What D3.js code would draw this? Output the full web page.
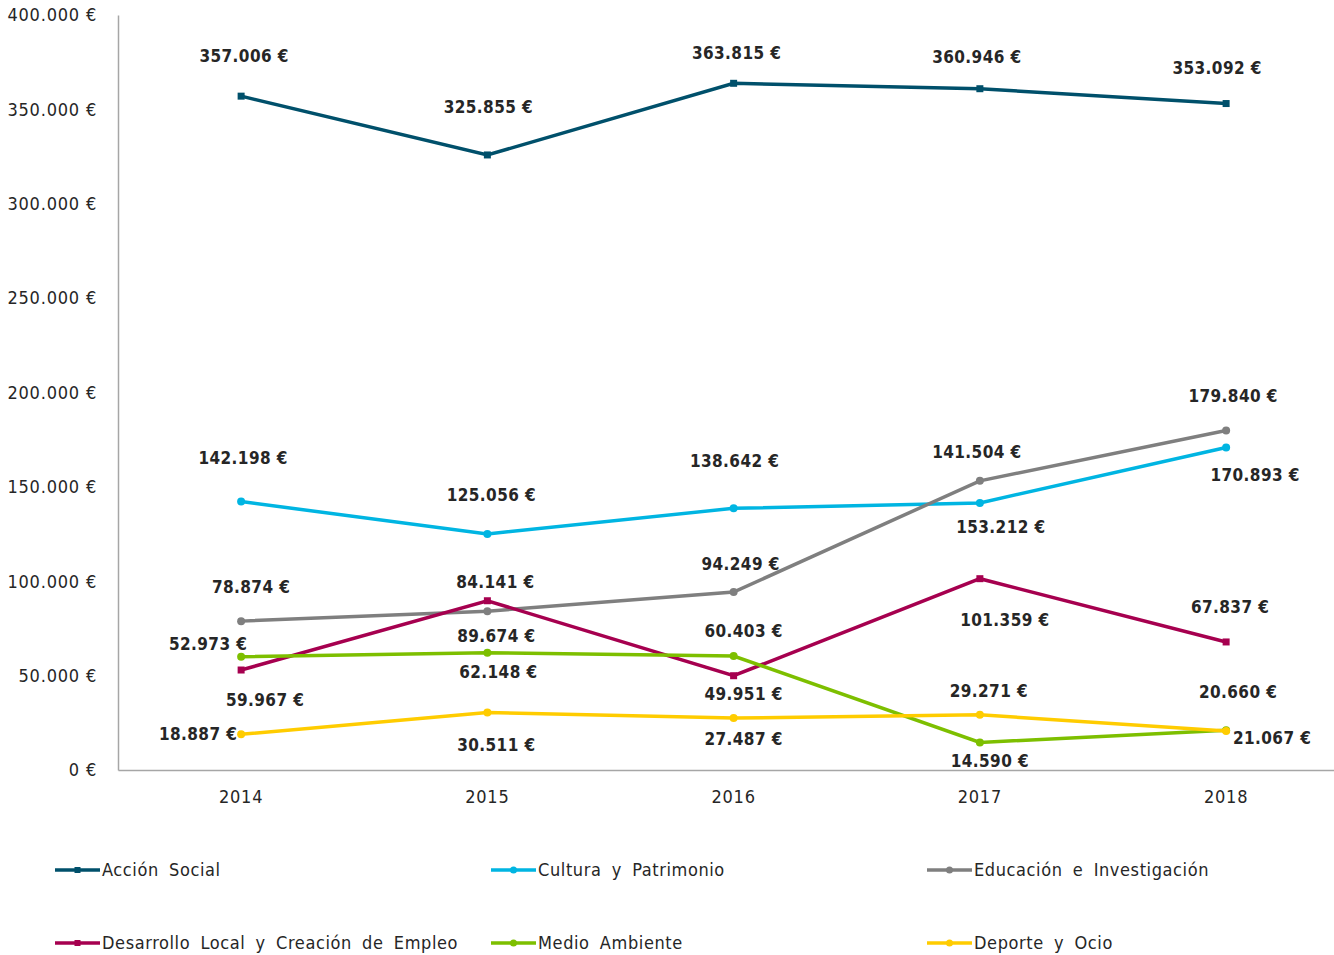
<!DOCTYPE html>
<html>
<head>
<meta charset="utf-8">
<script src="https://cdn.jsdelivr.net/npm/d3@7"></script>
<style>
  body { margin: 0; background: #fff; }
  svg { font-family: "DejaVu Sans Condensed", "DejaVu Sans", sans-serif; }
</style>
</head>
<body>
<svg class="chart"></svg>
<script>
// Data
const years = [2014, 2015, 2016, 2017, 2018];
const seriesNames = ['Acción Social', 'Cultura y Patrimonio', 'Educación e Investigación',
  'Desarrollo Local y Creación de Empleo', 'Medio Ambiente', 'Deporte y Ocio'];
const accionSocial = [357006, 325855, 363815, 360946, 353092];
const cultura = [142198, 125056, 138642, 141504, 170893];
const educacion = [78874, 84141, 94249, 153212, 179840];
const desarrollo = [52973, 89674, 49951, 101359, 67837];
const medioAmbiente = [59967, 62148, 60403, 14590, 21067];
const deporte = [18887, 30511, 27487, 29271, 20660];
const yTicks = [0, 50000, 100000, 150000, 200000, 250000, 300000, 350000, 400000];

const allValues = [accionSocial, cultura, educacion, desarrollo, medioAmbiente, deporte];
const colors = ['#00506B', '#00B5E2', '#7F7F7F', '#A6004F', '#7DBF00', '#FFCC00'];
const markers = ['square', 'circle', 'circle', 'square', 'circle', 'circle'];

// label offsets from the point [dx, dy] (text centre)
const labelOffsets = [
  [[3, -40], [1, -48], [3, -30], [-3, -32], [-9, -35]],
  [[2, -44], [4, -39], [1, -47], [-3, -51], [29, 28]],
  [[10, -34], [8, -29], [7, -28], [21, 46], [7, -35]],
  [[-33, -26], [9, 35], [10, 18], [25, 41], [4, -35]],
  [[24, 43], [11, 19], [10, -25], [10, 19], [46, 8]],
  [[-43, 0], [9, 33], [10, 21], [9, -24], [12, -39]]
];

const svgWidth = 1334, svgHeight = 955;
const svg = d3.select('.chart').attr('width', svgWidth).attr('height', svgHeight);

const xScale = d3.scaleBand()
  .domain(years)
  .range([118, 118 + 5 * 246.25]);

const yScale = d3.scaleLinear()
  .domain([0, 400000])
  .range([770, 15]);

const fmt = v => d3.format(',')(v).replace(/,/g, '.') + ' €';
const cx = d => xScale(d) + xScale.bandwidth() / 2;

// axes
const yAxis = svg.append('g')
  .attr('transform', 'translate(118,0)')
  .call(d3.axisLeft(yScale).tickValues(yTicks).tickSize(0).tickPadding(21).tickFormat(fmt));
yAxis.select('.domain').attr('stroke', '#a6a6a6').attr('stroke-width', 1.5);
yAxis.selectAll('text').attr('font-size', '18px').attr('fill', '#262626')
  .attr('letter-spacing', '0.8px')
  .attr('font-family', '"DejaVu Sans Condensed", sans-serif');

const xAxis = svg.append('g')
  .attr('transform', 'translate(0,770)')
  .call(d3.axisBottom(xScale).tickSize(0).tickPadding(20));
xAxis.select('.domain').attr('stroke', '#a6a6a6').attr('stroke-width', 1.5);
xAxis.selectAll('text').attr('font-size', '18px').attr('fill', '#262626')
  .attr('letter-spacing', '0.8px')
  .attr('font-family', '"DejaVu Sans Condensed", sans-serif');

// lines
const line = d3.line()
  .x((d, i) => cx(years[i]))
  .y(d => yScale(d));

function drawMarker(g, type, x, y, color, size) {
  if (type === 'square') {
    g.append('rect').attr('x', x - size).attr('y', y - size)
      .attr('width', size * 2).attr('height', size * 2).attr('fill', color);
  } else {
    g.append('circle').attr('cx', x).attr('cy', y).attr('r', size + 0.5).attr('fill', color);
  }
}

allValues.forEach((vals, s) => {
  const g = svg.append('g');
  g.append('path')
    .datum(vals)
    .attr('fill', 'none')
    .attr('stroke', colors[s])
    .attr('stroke-width', 3.5)
    .attr('d', line);
  vals.forEach((v, i) => drawMarker(g, markers[s], cx(years[i]), yScale(v), colors[s], 3.5));
});

// data labels
allValues.forEach((vals, s) => {
  svg.append('g').selectAll('text')
    .data(vals)
    .enter()
    .append('text')
    .attr('x', (d, i) => cx(years[i]) + labelOffsets[s][i][0])
    .attr('y', (d, i) => yScale(d) + labelOffsets[s][i][1])
    .attr('dy', '0.35em')
    .attr('text-anchor', 'middle')
    .attr('font-size', '17px')
    .attr('font-weight', 'bold')
    .attr('letter-spacing', '0.4px')
    .attr('fill', '#262626')
    .text(d => fmt(d));
});

// legend
const legendCols = [55, 491, 927];
const legendRows = [870, 943];
seriesNames.forEach((name, s) => {
  const lx = legendCols[s % 3], ly = legendRows[Math.floor(s / 3)];
  const g = svg.append('g');
  g.append('line').attr('x1', lx).attr('x2', lx + 45).attr('y1', ly).attr('y2', ly)
    .attr('stroke', colors[s]).attr('stroke-width', 3.5);
  drawMarker(g, markers[s], lx + 22.5, ly, colors[s], 3);
  g.append('text').attr('x', lx + 47).attr('y', ly).attr('dy', '0.35em')
    .attr('font-size', '18px').attr('fill', '#262626')
    .attr('letter-spacing', '0.6px').attr('word-spacing', '4.5px')
    .text(name);
});
</script>
</body>
</html>
